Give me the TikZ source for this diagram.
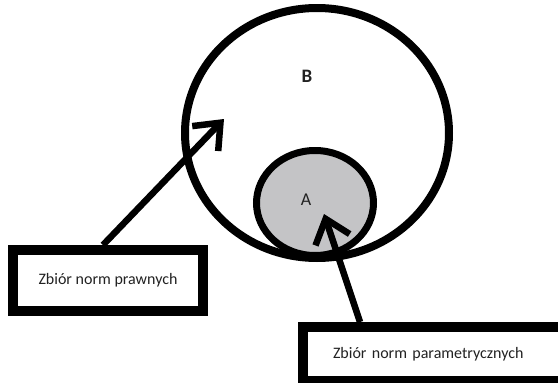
\documentclass[tikz,border=0pt]{standalone}
\usepackage{fontspec}
\setmainfont{Carlito}
\usetikzlibrary{arrows.meta}
\definecolor{agray}{RGB}{196,196,198}
\definecolor{ink}{RGB}{34,34,34}
\begin{document}
\begin{tikzpicture}[x=1pt,y=-1pt,
  setline/.style={draw=black, line width=8pt},
  subset/.style={draw=black, line width=7pt, fill=agray},
  labelbox/.style={draw=black, line width=10pt, rectangle, inner sep=0pt, fill=white,
    font=\fontsize{16}{19}\selectfont, text=ink},
  pointer/.style={line width=6.5pt, -{Straight Barb[length=22pt,width=36pt,line width=6.5pt]}},
  setname/.style={text=ink, inner sep=0pt}]
\useasboundingbox (0,0) rectangle (558,383);
% sets
\path[setline] (317,133) ellipse [x radius=132, y radius=125];
\path[subset] (315,203) ellipse [x radius=58.5, y radius=52.5];
\node[setname, font=\bfseries\fontsize{19}{22}\selectfont] (B) at (307,76.5) {B};
\node[setname, font=\fontsize{18}{21}\selectfont] (A) at (306,200) {A};
% label boxes
\node[labelbox, minimum width=190pt, minimum height=61pt] (box1) at (108,280.5) {Zbiór norm prawnych};
\node[labelbox, minimum height=54pt, text width=237pt, inner xsep=30pt, align=left] (box2) at (451.5,354) {Zbiór norm parametrycznych};
% arrow tips
\coordinate (tip1) at (224,119);
\coordinate (tip2) at (324,214);
% pointers
\draw[pointer] ([xshift=-5pt]box1.north) -- (tip1);
\draw[pointer] ([xshift=62pt]box2.north west) -- (tip2);
\end{tikzpicture}
\end{document}
